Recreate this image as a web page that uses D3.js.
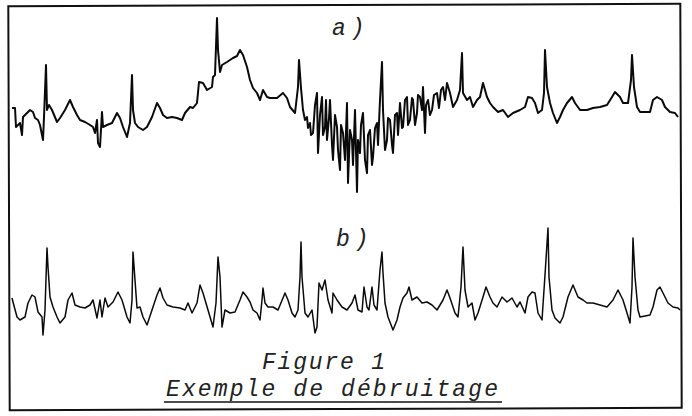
<!DOCTYPE html>
<html><head><meta charset="utf-8">
<script src="https://cdn.jsdelivr.net/npm/d3@7"></script>
<style>html,body{margin:0;padding:0;background:#fff;}svg{display:block;}</style>
</head><body>
<svg id="chart" width="692" height="416"></svg>
<script>
// Trace a) : noisy ECG  [sample, amplitude]
const traceA = [[2,2],[5,2],[6,-17],[10,-13],[12,-25],[13,-7],[17,-3],[20,0],[23,-2],[25,-8],[28,-10],[30,-15],[33,-30],[34,-7],[36,45],[37,0],[39,5],[42,0],[47,-12],[50,-8],[55,0],[60,10],[63,3],[67,-5],[70,-10],[75,-12],[80,-15],[83,-17],[85,-23],[87,-10],[88,-33],[90,-37],[92,-2],[93,-17],[97,-15],[102,-13],[107,-3],[110,-8],[113,-17],[117,-27],[120,-13],[122,35],[123,0],[125,-13],[128,-17],[133,-20],[137,-17],[142,-7],[147,7],[150,2],[153,-5],[157,-8],[162,-7],[167,-8],[172,-10],[175,-3],[180,3],[183,2],[187,7],[189,28],[193,27],[197,20],[202,23],[203,33],[205,35],[207,92],[208,60],[210,38],[212,45],[217,48],[223,52],[227,54],[230,60],[233,55],[237,43],[240,30],[243,22],[247,17],[250,10],[253,20],[257,13],[260,12],[267,12],[273,17],[277,12],[280,3],[285,-3],[288,23],[289,50],[291,22],[293,0],[295,-10],[297,-7],[298,-18],[300,-13],[301,-25],[303,-23],[305,5],[307,17],[308,-43],[310,-5],[312,13],[313,-25],[315,-17],[316,10],[317,-30],[319,-8],[320,10],[322,-35],[323,-50],[325,-5],[327,-17],[328,-40],[330,-60],[331,-15],[333,-23],[335,-50],[337,7],[338,-73],[340,-20],[342,-30],[343,-55],[345,0],[347,-82],[348,-30],[350,-43],[351,-15],[353,-3],[355,-50],[357,-63],[358,-25],[360,-20],[362,-55],[363,-47],[365,-18],[367,-13],[368,-35],[370,10],[372,48],[373,0],[375,-40],[377,-30],[378,-8],[380,-10],[382,-35],[383,-43],[385,-5],[387,-3],[388,-25],[390,7],[392,-18],[393,-17],[395,10],[397,13],[398,-15],[400,-10],[402,12],[403,10],[405,-15],[407,-3],[408,15],[410,13],[412,0],[413,23],[415,-23],[416,5],[418,10],[420,-5],[422,0],[424,15],[427,17],[429,2],[431,20],[433,23],[435,10],[437,27],[440,17],[443,3],[447,10],[450,20],[452,57],[453,17],[457,10],[460,13],[463,3],[467,10],[470,13],[473,27],[477,13],[480,7],[483,3],[488,-2],[493,0],[498,-7],[503,-3],[510,0],[515,3],[518,13],[522,12],[525,7],[528,-3],[532,0],[534,17],[535,60],[537,23],[540,7],[543,-3],[547,-13],[550,-7],[553,0],[557,7],[562,13],[565,7],[570,0],[577,0],[583,2],[590,3],[597,5],[602,13],[605,18],[610,13],[613,7],[618,7],[621,30],[622,55],[624,23],[627,3],[630,-2],[640,-2],[643,10],[647,13],[652,10],[655,3],[660,-2],[665,-3],[668,-7]];

// Trace b) : denoised ECG  [sample, amplitude]
const traceB = [[2,7],[3,3],[7,-12],[10,-15],[15,-12],[18,2],[22,10],[25,8],[28,-7],[32,-12],[33,-30],[35,-5],[37,57],[38,38],[40,8],[43,-2],[47,-12],[50,-18],[55,-12],[58,5],[62,12],[65,0],[70,-2],[75,-3],[80,0],[83,5],[87,-13],[90,5],[92,-12],[95,7],[98,-2],[103,3],[108,13],[112,5],[117,-12],[120,-18],[122,5],[123,53],[125,25],[127,-3],[130,-2],[133,-12],[137,-20],[142,-5],[147,10],[150,17],[153,7],[157,0],[163,-2],[170,-3],[175,-5],[178,2],[182,-8],[187,2],[190,20],[193,12],[198,-5],[203,-22],[206,2],[208,48],[210,28],[212,-22],[215,-5],[220,-8],[225,-7],[230,5],[233,13],[237,8],[240,3],[243,-5],[247,-8],[250,-15],[252,5],[253,17],[255,2],[258,-2],[263,-2],[268,-5],[273,7],[275,12],[278,5],[282,-8],[285,-12],[288,-5],[290,28],[291,63],[292,28],[295,-8],[298,-12],[302,-5],[305,-28],[307,-22],[309,22],[312,15],[315,25],[318,5],[322,-8],[323,12],[327,5],[332,-2],[337,-5],[342,2],[345,10],[348,-5],[352,-7],[354,18],[357,-2],[359,-5],[362,18],[364,0],[367,-5],[370,35],[372,53],[373,32],[375,2],[378,-12],[383,-25],[387,-15],[390,-2],[393,7],[397,12],[399,18],[402,5],[407,8],[412,2],[417,3],[422,0],[427,-5],[433,5],[437,15],[440,7],[445,-8],[448,-12],[451,18],[453,58],[455,15],[458,-2],[462,2],[465,-15],[468,-8],[473,8],[476,18],[480,8],[483,2],[487,-2],[492,8],[497,3],[502,7],[507,-2],[510,3],[515,-8],[518,8],[522,13],[525,12],[528,-8],[532,-15],[535,30],[538,77],[539,28],[542,-5],[545,-13],[550,-18],[553,-12],[558,8],[563,20],[568,8],[573,5],[577,2],[583,2],[590,0],[597,-2],[603,5],[608,15],[613,5],[617,-8],[620,-18],[622,18],[623,67],[625,28],[628,-5],[630,-12],[640,-10],[643,-2],[647,15],[650,18],[653,12],[658,2],[663,-2],[668,-3],[670,-5]];

const panelLabels = ["a)", "b)"];
const captionLines = ["Figure 1", "Exemple de débruitage"];

const svg = d3.select("#chart");

const x = d3.scaleLinear().domain([0, 670]).range([10, 680]);
const yA = d3.scaleLinear().domain([0, 100]).range([110, 10]);
const yB = d3.scaleLinear().domain([0, 100]).range([305, 205]);

// frame (scanned page is slightly rotated)
svg.append("rect")
  .attr("x", 9).attr("y", 5).attr("width", 672).attr("height", 404)
  .attr("fill", "none").attr("stroke", "#111").attr("stroke-width", 2)
  .attr("transform", "rotate(-0.2,345,207)");

const lineA = d3.line().x(d => x(d[0])).y(d => yA(d[1]));
const lineB = d3.line().x(d => x(d[0])).y(d => yB(d[1]));

svg.append("path").datum(traceA)
  .attr("d", lineA).attr("fill", "none")
  .attr("stroke", "#0a0a0a").attr("stroke-width", 2)
  .attr("stroke-linejoin", "round");

svg.append("path").datum(traceB)
  .attr("d", lineB).attr("fill", "none")
  .attr("stroke", "#0a0a0a").attr("stroke-width", 1.5)
  .attr("stroke-linejoin", "round");

const font = "'Liberation Mono', 'Courier New', monospace";

svg.selectAll("text.panel").data(panelLabels).join("text")
  .attr("class", "panel")
  .attr("x", (d, i) => i === 0 ? 332 : 336)
  .attr("y", (d, i) => i === 0 ? 35 : 246)
  .attr("font-family", font).attr("font-style", "italic")
  .attr("font-size", 23).attr("letter-spacing", 5)
  .attr("fill", "#222")
  .text(d => d);

svg.append("text")
  .attr("x", 262).attr("y", 369)
  .attr("font-family", font).attr("font-style", "italic")
  .attr("font-size", 23).attr("fill", "#222")
  .attr("textLength", 123).attr("lengthAdjust", "spacing")
  .text(captionLines[0]);

svg.append("text")
  .attr("x", 166).attr("y", 396)
  .attr("font-family", font).attr("font-style", "italic")
  .attr("font-size", 23).attr("fill", "#222")
  .attr("textLength", 332).attr("lengthAdjust", "spacing")
  .text(captionLines[1]);

svg.append("line")
  .attr("x1", 164).attr("x2", 502).attr("y1", 402).attr("y2", 402)
  .attr("stroke", "#111").attr("stroke-width", 1.5);
</script>
</body></html>
